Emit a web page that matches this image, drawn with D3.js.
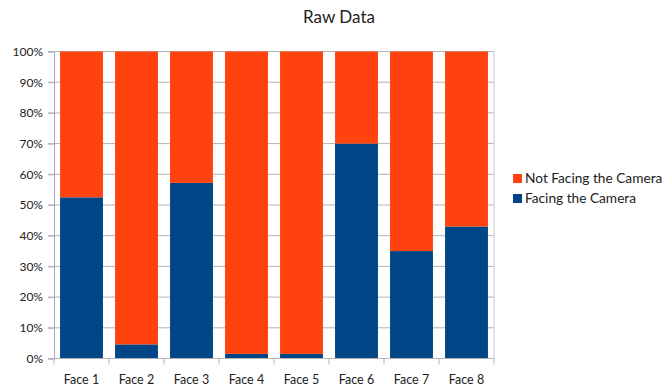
<!DOCTYPE html>
<html>
<head>
<meta charset="utf-8">
<script src="https://cdn.jsdelivr.net/npm/d3@7"></script>
<style>
  body { margin: 0; background: #fff; }
  text { font-family: Lato, "Open Sans", sans-serif; fill: #222; }
</style>
</head>
<body>
<div id="container"></div>
<script>
let w = 670;
let h = 389;

// data
let faces = ["Face 1", "Face 2", "Face 3", "Face 4", "Face 5", "Face 6", "Face 7", "Face 8"];
let facing = [52.5, 4.6, 57.2, 1.5, 1.5, 70, 35, 43];
let notFacing = facing.map(v => 100 - v);
let seriesNames = ["Not Facing the Camera", "Facing the Camera"];
let colors = ["#ff420e", "#004586"];
let yTicks = [0, 10, 20, 30, 40, 50, 60, 70, 80, 90, 100];

let plotLeft = 54, plotRight = 494, plotTop = 51.5, plotBottom = 358.5;

let viz = d3.select("#container")
  .append("svg")
    .attr("width", w)
    .attr("height", h)
    .style("background-color", "#fff");

let xScale = d3.scaleBand().domain(faces).range([plotLeft, plotRight]).paddingInner(0.22).paddingOuter(0.11);
let yScale = d3.scaleLinear().domain([0, 100]).range([plotBottom, plotTop]);

// gridlines
viz.append("g").selectAll("line")
  .data(yTicks)
  .enter()
  .append("line")
    .attr("x1", plotLeft - 6)
    .attr("x2", plotRight)
    .attr("y1", d => yScale(d))
    .attr("y2", d => yScale(d))
    .attr("stroke", "#b3b3b3")
    .attr("stroke-width", 1);

// right border
viz.append("line")
  .attr("x1", plotRight).attr("x2", plotRight)
  .attr("y1", plotTop).attr("y2", plotBottom)
  .attr("stroke", "#c8c8d8");

// stacked bars
let rows = faces.map((f, i) => ({face: f, facing: facing[i], notFacing: notFacing[i]}));
let stack = d3.stack().keys(["facing", "notFacing"])(rows);
let keyColor = {facing: colors[1], notFacing: colors[0]};

viz.append("g").selectAll("g")
  .data(stack)
  .enter()
  .append("g")
    .attr("fill", d => keyColor[d.key])
  .selectAll("rect")
  .data(d => d)
  .enter()
  .append("rect")
    .attr("x", d => xScale(d.data.face))
    .attr("width", xScale.bandwidth())
    .attr("y", d => yScale(d[1]))
    .attr("height", d => yScale(d[0]) - yScale(d[1]));

// y axis
let yAxis = d3.axisLeft(yScale).tickValues(yTicks).tickFormat(d => d + "%").tickSize(6).tickPadding(5);
let yAxisGroup = viz.append("g").attr("transform", "translate(" + plotLeft + ",0)").call(yAxis);
yAxisGroup.select(".domain").attr("stroke", "#a8a8c0");
yAxisGroup.selectAll(".tick line").attr("stroke", "#b3b3b3");
yAxisGroup.selectAll("text").style("font-size", "12px").attr("fill", "#222");

// x axis
let xAxisGroup = viz.append("g").attr("transform", "translate(0," + plotBottom + ")");
xAxisGroup.append("line")
  .attr("x1", plotLeft).attr("x2", plotRight)
  .attr("stroke", "#b3b3b3");
let bounds = d3.range(faces.length + 1).map(i => plotLeft + i * (plotRight - plotLeft) / faces.length);
xAxisGroup.selectAll(".xt")
  .data(bounds)
  .enter()
  .append("line")
    .attr("x1", d => d).attr("x2", d => d)
    .attr("y1", 0).attr("y2", 6)
    .attr("stroke", "#b3b3b3");
xAxisGroup.selectAll(".xl")
  .data(faces)
  .enter()
  .append("text")
    .attr("x", d => xScale(d) + xScale.bandwidth() / 2)
    .attr("y", 25)
    .attr("text-anchor", "middle")
    .style("font-size", "12.5px")
    .text(d => d);

// title
viz.append("text")
  .attr("x", 339)
  .attr("y", 23)
  .attr("text-anchor", "middle")
  .style("font-size", "17px")
  .text("Raw Data");

// legend
let legend = viz.append("g").attr("transform", "translate(513,174)");
seriesNames.forEach((name, i) => {
  legend.append("rect")
    .attr("x", 0).attr("y", i * 20)
    .attr("width", 9).attr("height", 9)
    .attr("fill", colors[i]);
  legend.append("text")
    .attr("x", 12).attr("y", i * 20 + 9)
    .style("font-size", "13.7px")
    .text(name);
});
</script>
</body>
</html>
